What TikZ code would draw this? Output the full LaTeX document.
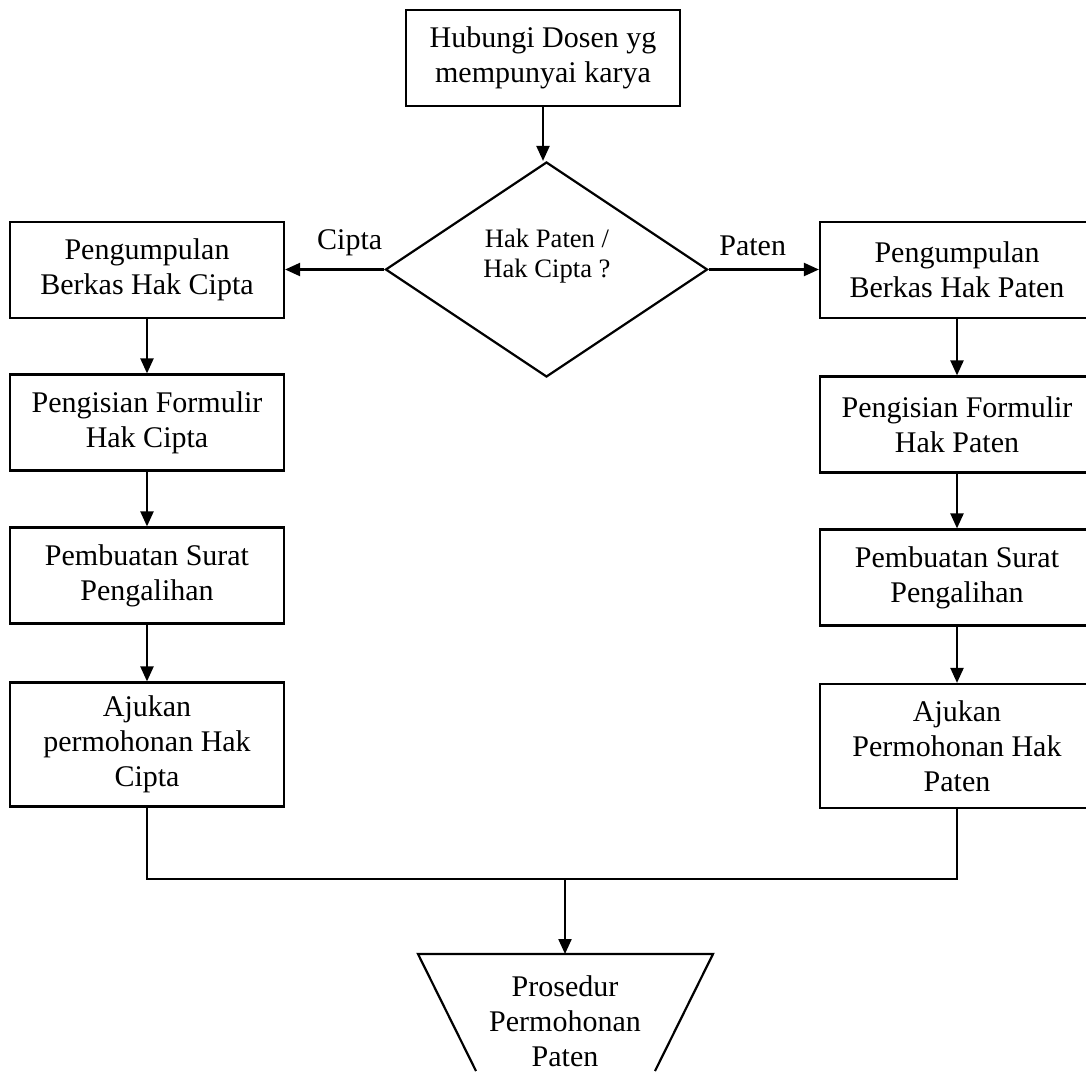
\documentclass[tikz,border=0pt]{standalone}
\usepackage{fontspec}
\setmainfont{Liberation Serif}
\usetikzlibrary{arrows.meta,shapes.geometric}

\begin{document}
\begin{tikzpicture}[x=0.5pt,y=-0.5pt,line width=1.1pt,
	box/.style={draw,minimum width=137pt,minimum height=48pt,inner sep=2pt,align=center,font=\fontsize{15}{17.5}\selectfont},
	tall/.style={box,minimum height=62pt},
	txt/.style={align=center,font=\fontsize{15}{17.5}\selectfont},
	arr/.style={-{Triangle[length=7.5pt,width=6.5pt]}}]
		\useasboundingbox (0,0) rectangle (1086,1071);
		\node[box] (dosen) at (543,58) {Hubungi Dosen yg\\mempunyai karya};
		\node[diamond,draw,minimum width=161pt,minimum height=107.5pt,inner sep=0pt] (pilih) at (546.5,269.5) {};
		\node[align=center,font=\fontsize{13.3}{15}\selectfont] (tanya) at (547,256) {Hak Paten /\\Hak Cipta ?};
		% kiri: hak cipta
		\node[box] (cipta1) at (147,270) {Pengumpulan\\Berkas Hak Cipta};
		\node[box] (cipta2) at (147,422.5) {Pengisian Formulir\\Hak Cipta};
		\node[box] (cipta3) at (147,575.5) {Pembuatan Surat\\Pengalihan};
		\node[tall] (cipta4) at (147,744.5) {Ajukan\\permohonan Hak\\Cipta};
		% kanan: hak paten
		\node[box] (paten1) at (957,270) {Pengumpulan\\Berkas Hak Paten};
		\node[box] (paten2) at (957,424.5) {Pengisian Formulir\\Hak Paten};
		\node[box] (paten3) at (957,577.5) {Pembuatan Surat\\Pengalihan};
		\node[tall] (paten4) at (957,746) {Ajukan\\Permohonan Hak\\Paten};
		\coordinate (gabungL) at (147,879);%kiri
		\coordinate (gabungR) at (957,879);%kanan
		\coordinate (gabungM) at (565,879);
		\coordinate (T1) at (418,954);
		\coordinate (T2) at (713,954);
		\coordinate (T3) at (655,1071);
		\coordinate (T4) at (476,1071);
		\coordinate (Ttop) at (565,954);
		\draw (T4)--(T1)--(T2)--(T3);
		\node[txt] (prosedur) at (565,1021) {Prosedur\\Permohonan\\Paten};
		
		\draw[arr] (dosen.south)--(dosen.south |- pilih.north);
		\draw[arr] (pilih.west)--(pilih.west -| cipta1.east) node[pos=0.35,above=3pt,font=\fontsize{15}{17.5}\selectfont] (lcipta) {Cipta};
		\draw[arr] (pilih.east)--(pilih.east -| paten1.west) node[pos=0.4,above=3pt,font=\fontsize{15}{17.5}\selectfont] (lpaten) {Paten};
		\draw[arr] (cipta1)--(cipta2);
		\draw[arr] (cipta2)--(cipta3);
		\draw[arr] (cipta3)--(cipta4);
		\draw[arr] (paten1)--(paten2);
		\draw[arr] (paten2)--(paten3);
		\draw[arr] (paten3)--(paten4);
		\draw (cipta4.south)--(gabungL)--(gabungR)--(paten4.south);
		\draw[arr] (gabungM)--(Ttop);
\end{tikzpicture}
\end{document}
